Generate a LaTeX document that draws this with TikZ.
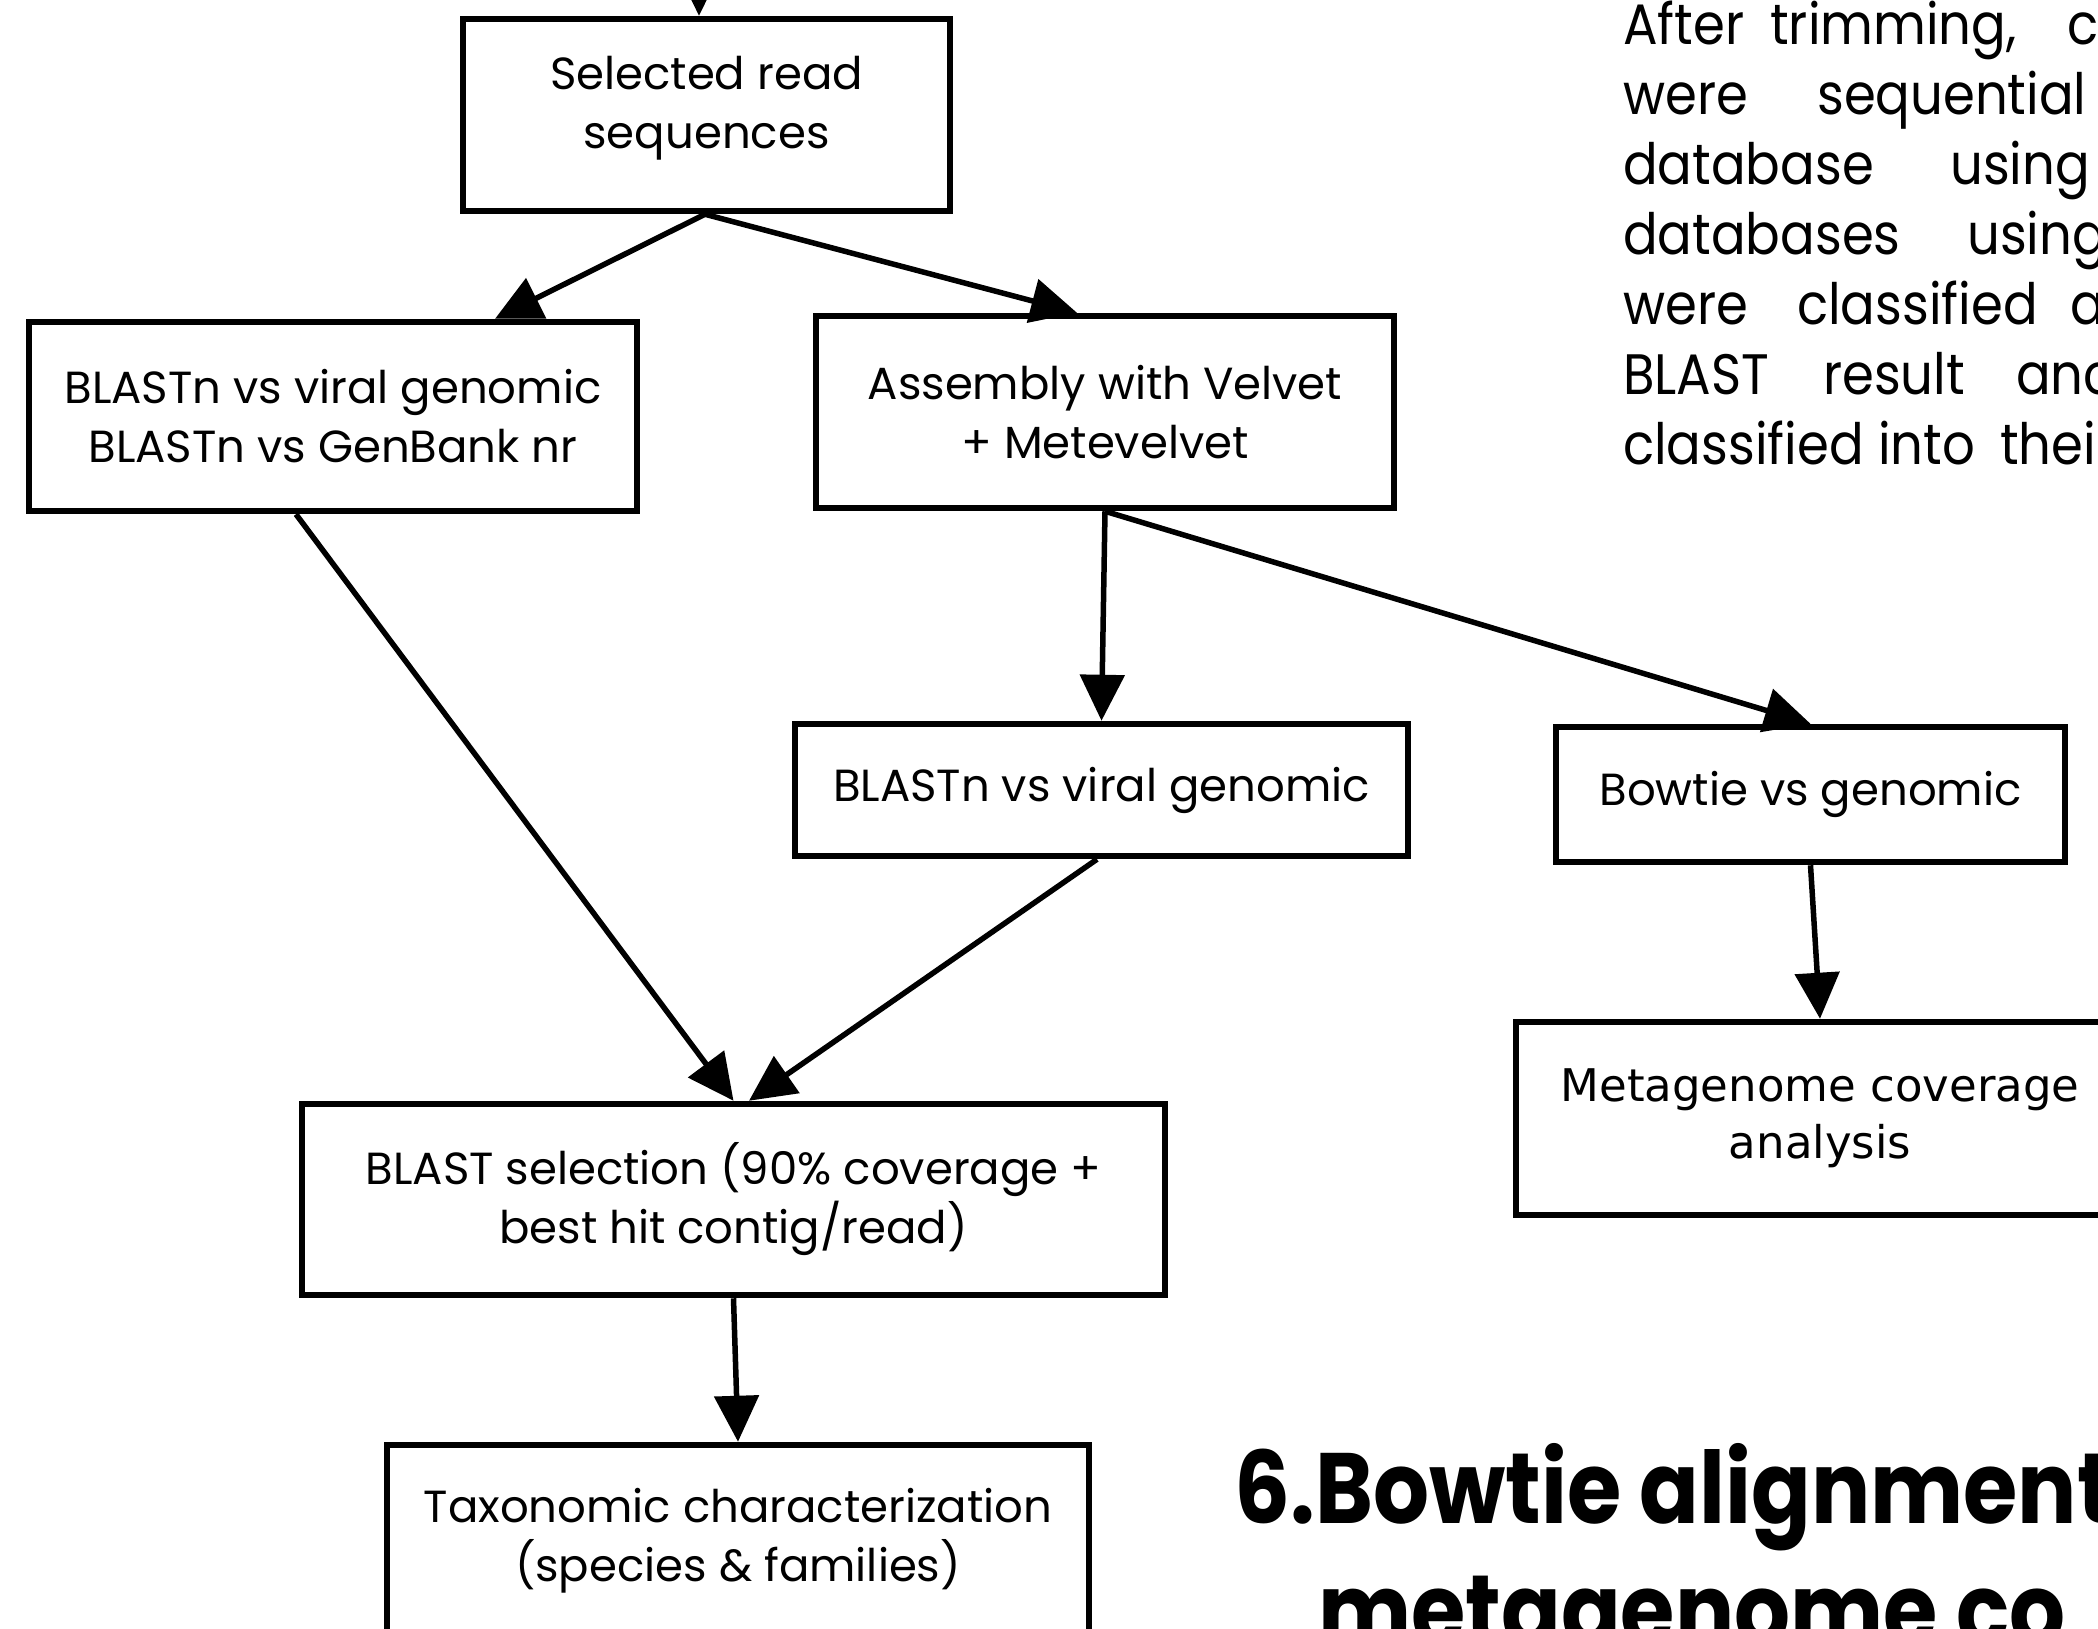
\documentclass[tikz,border=0pt]{standalone}
\usepackage{fontspec}
\setmainfont{Poppins}
\newfontfamily\dejavu{DejaVu Sans}
\newfontfamily\parafont[FakeStretch=0.9]{Poppins}
\newfontfamily\headfont[FakeStretch=0.88]{Poppins}
\usetikzlibrary{arrows.meta,calc}
\begin{document}
\begin{tikzpicture}[x=1pt,y=-1pt,
  box/.style={draw, line width=6.5pt, rectangle, inner sep=0pt, align=center,
              font=\fontsize{45}{59}\selectfont},
  conn/.style={line width=5.5pt, -{Triangle[length=46pt,width=44pt]}},
  para/.style={anchor=base west, inner sep=0pt, font=\parafont\fontsize{57}{70}\selectfont},
  ttl/.style={anchor=base west, inner sep=0pt, font=\headfont\fontsize{100}{120}\selectfont\bfseries}]
\useasboundingbox (0,0) rectangle (2098,1628);
\clip (0,0) rectangle (2098,1628);
\fill[white] (0,0) rectangle (2098,1628);

% boxes
\node[box, minimum width=487pt, minimum height=192pt] (sel) at (706.5,115) {};
\node[box, draw=none] (seltxt) at (706.5,108) {Selected read\\sequences};
\node[box, minimum width=608pt, minimum height=189pt] (b2) at (333,416.5) {BLASTn vs viral genomic\\BLASTn vs GenBank nr};
\node[box, minimum width=578pt, minimum height=192pt] (b3) at (1105,412) {Assembly with Velvet\\+ Metevelvet};
\node[box, minimum width=613pt, minimum height=132pt] (b4) at (1101.5,790) {BLASTn vs viral genomic};
\node[box, minimum width=509pt, minimum height=135pt] (b5) at (1810.5,794.5) {Bowtie vs genomic};
\node[box, minimum width=608pt, minimum height=193pt, font=\dejavu\fontsize{45}{57}\selectfont] (b6) at (1820,1118.5) {Metagenome coverage\\analysis};
\node[box, minimum width=863pt, minimum height=191pt] (b7) at (733.5,1199.5) {BLAST selection (90\% coverage +\\best hit contig/read)};
\node[box, minimum width=702pt, minimum height=200pt] (b8) at (738,1545) {};
\node[box, draw=none] (b8txt) at (738,1541) {Taxonomic characterization\\(species \& families)};

% connectors
\coordinate (topin) at (699,-80);
\draw[conn] (topin) -- ([xshift=-7.5pt]sel.north);
\draw[conn] ([xshift=-1.5pt]sel.south) -- ([xshift=162pt]b2.north);
\draw[conn] ([xshift=-1.5pt]sel.south) -- ([xshift=-28pt]b3.north);
\draw[conn] ([xshift=-37pt]b2.south) -- (b7.north);
\draw[conn] (b3.south) -- (b4.north);
\draw[conn] (b3.south) -- (b5.north);
\draw[conn] ([xshift=-4.5pt]b4.south) -- ([xshift=15.5pt]b7.north);
\draw[conn] (b5.south) -- (b6.north);
\draw[conn] (b7.south) -- (b8.north);

% paragraph (right column, cut by the frame)
\node[para] (p11) at (1623,44) {After};
\node[para] (p12) at (1770,44) {trimming,};
\node[para] (p13) at (2067,44) {c};
\node[para] (p21) at (1623,114) {were};
\node[para] (p22) at (1817,114) {sequential};
\node[para] (p31) at (1623,184) {database};
\node[para] (p32) at (1950,184) {using};
\node[para] (p41) at (1623,254) {databases};
\node[para] (p42) at (1967,254) {using};
\node[para] (p51) at (1623,324) {were};
\node[para] (p52) at (1797,324) {classified};
\node[para] (p53) at (2070,324) {a};
\node[para] (p61) at (1623,394) {BLAST};
\node[para] (p62) at (1823,394) {result};
\node[para] (p63) at (2016,394) {anc};
\node[para] (p71) at (1623,464) {classified};
\node[para] (p72) at (1878,464) {into};
\node[para] (p73) at (2000,464) {thei};

% heading
\node[ttl] (h1) at (1234,1523) {6.Bowtie alignment};
\node[ttl] (h2) at (1318,1645) {metagenome co};
\end{tikzpicture}
\end{document}
